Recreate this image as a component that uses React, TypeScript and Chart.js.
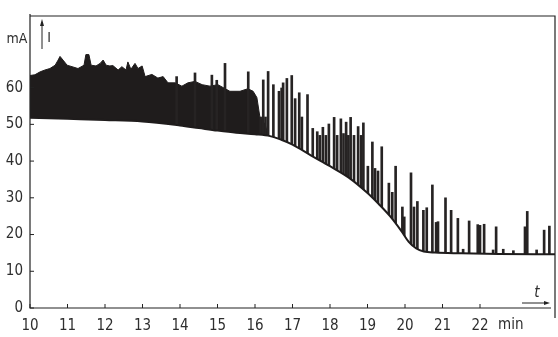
import { useEffect, useRef } from 'react';
import { Chart, registerables } from 'chart.js';

Chart.register(...registerables);

const FONT = "'DejaVu Sans Condensed', 'Liberation Sans Narrow', 'DejaVu Sans', sans-serif";

// Axis ticks
const xTickValues = [10, 11, 12, 13, 14, 15, 16, 17, 18, 19, 20, 21, 22];
const yTickValues = [0, 10, 20, 30, 40, 50, 60];

// Baseline current (lower envelope) – time in min, current in mA
const baseT = [10, 11, 12, 13, 14, 14.5, 15, 15.5, 16, 16.4, 16.7, 17, 17.5, 18, 18.5, 19, 19.3, 19.6, 19.9, 20.1, 20.3, 20.5, 20.8, 21.5, 22.5, 24];
const baseI = [51.8, 51.5, 51.2, 50.8, 49.7, 49, 48.3, 47.7, 47.3, 46.8, 45.8, 44.5, 41.5, 38.6, 35.5, 31.3, 28.3, 25, 21, 18, 16.2, 15.4, 15.1, 14.9, 14.7, 14.6];

// Upper envelope of the dense oscillation band
const envT = [10.0, 10.13, 10.27, 10.4, 10.53, 10.67, 10.75, 10.8, 10.88, 10.99, 11.12, 11.28, 11.44, 11.49, 11.57, 11.63, 11.76, 11.87, 11.95, 12.03, 12.13, 12.21, 12.35, 12.45, 12.56, 12.61, 12.69, 12.8, 12.88, 12.99, 13.07, 13.25, 13.41, 13.55, 13.68, 13.87, 14.05, 14.21, 14.4, 14.59, 14.8, 15.01, 15.33, 15.6, 15.81, 15.95, 16.05, 16.13, 16.27, 16.35];
const envI = [63.3, 63.5, 64.3, 64.8, 65.2, 66.1, 67.5, 68.5, 67.5, 66.1, 65.7, 65.2, 66.1, 69, 69, 66.1, 65.9, 66.6, 67.5, 66.1, 65.9, 66, 64.8, 65.7, 64.8, 67, 65, 66.6, 65.2, 65.9, 63, 63.6, 62.6, 63, 61.3, 61.3, 60.4, 61.3, 61.7, 60.8, 60.4, 60.8, 59, 59, 59.7, 59, 57.3, 52, 50, 47];

// Individual current spikes (peak values)
const spikeT = [13.91, 14.4, 14.85, 14.98, 15.2, 15.82, 16.15, 16.22, 16.28, 16.35, 16.49, 16.64, 16.71, 16.75, 16.85, 16.98, 17.07, 17.18, 17.25, 17.4, 17.54, 17.66, 17.73, 17.81, 17.89, 17.97, 18.11, 18.19, 18.29, 18.36, 18.43, 18.49, 18.55, 18.64, 18.75, 18.83, 18.89, 19.01, 19.13, 19.2, 19.28, 19.38, 19.57, 19.66, 19.75, 19.93, 19.98, 20.16, 20.24, 20.33, 20.49, 20.58, 20.73, 20.83, 20.88, 21.08, 21.23, 21.41, 21.55, 21.71, 21.94, 22.0, 22.11, 22.35, 22.43, 22.62, 22.89, 23.2, 23.26, 23.51, 23.71, 23.85];
const spikeI = [63, 64, 63.4, 62, 66.6, 64.3, 52, 62.1, 52, 64.4, 60.8, 59, 59.9, 61.3, 62.5, 63.3, 57, 58.6, 52, 58.1, 48.9, 48, 47, 49.2, 47, 50.1, 51.9, 47, 51.5, 47.5, 50.6, 47, 51.9, 47, 49.4, 47, 50.4, 38.6, 45.2, 38, 37.3, 43.9, 34, 31.5, 38.6, 27.5, 24.8, 36.8, 27.5, 29, 26.6, 27.3, 33.5, 23.3, 23.5, 30, 26.6, 24.4, 16, 23.7, 22.7, 22.5, 22.8, 15.8, 22.1, 16, 15.6, 22.1, 26.3, 15.8, 21.2, 22.3];

const INK = '#1f1c1c';
const TEXT = '#2e2e2e';

const framePlugin = {
  id: 'frame',
  afterDatasetsDraw(chart: any) {
    const { ctx, chartArea } = chart;
    const { left, right, top, bottom } = chartArea;
    const xs = chart.scales.x;
    const ys = chart.scales.y;
    ctx.save();
    ctx.strokeStyle = '#222';
    ctx.lineWidth = 1.2;
    ctx.beginPath();
    ctx.moveTo(left, top - 2);
    ctx.lineTo(left, bottom);
    ctx.lineTo(right - 4, bottom);
    ctx.moveTo(left, top);
    ctx.lineTo(right, top);
    ctx.lineTo(right, bottom + 10);
    ctx.stroke();
    // inner tick marks
    ctx.lineWidth = 1;
    ctx.beginPath();
    xTickValues.forEach((v) => {
      const px = xs.getPixelForValue(v);
      ctx.moveTo(px, bottom);
      ctx.lineTo(px, bottom - 4);
    });
    yTickValues.forEach((v) => {
      const py = ys.getPixelForValue(v);
      ctx.moveTo(left, py);
      ctx.lineTo(left + 4, py);
    });
    ctx.stroke();
    // I arrow
    const ax = left + 12;
    ctx.beginPath();
    ctx.moveTo(ax, top + 33);
    ctx.lineTo(ax, top + 6);
    ctx.stroke();
    ctx.fillStyle = '#222';
    ctx.beginPath();
    ctx.moveTo(ax, top + 3);
    ctx.lineTo(ax - 2, top + 10);
    ctx.lineTo(ax + 2, top + 10);
    ctx.closePath();
    ctx.fill();
    // t arrow
    ctx.beginPath();
    ctx.moveTo(right - 33, bottom - 5);
    ctx.lineTo(right - 8, bottom - 5);
    ctx.stroke();
    ctx.beginPath();
    ctx.moveTo(right - 5, bottom - 5);
    ctx.lineTo(right - 11, bottom - 7);
    ctx.lineTo(right - 11, bottom - 3);
    ctx.closePath();
    ctx.fill();
    // texts
    ctx.fillStyle = TEXT;
    ctx.textBaseline = 'middle';
    ctx.textAlign = 'center';
    ctx.font = `14px ${FONT}`;
    ctx.fillText('mA', 17, top + 23);
    ctx.fillText('I', ax + 7, top + 22);
    ctx.font = `15px ${FONT}`;
    ctx.fillText('min', xs.getPixelForValue(22.82), bottom + 17);
    ctx.font = `italic 15px ${FONT}`;
    ctx.fillText('t', right - 18, bottom - 15);
    ctx.restore();
  },
};

export default function App() {
  const ref = useRef<HTMLCanvasElement | null>(null);

  useEffect(() => {
    if (!ref.current) return;
    const chart = new Chart(ref.current, {
      type: 'line',
      data: {
        datasets: [
          {
            type: 'line',
            data: baseT.map((t, i) => ({ x: t, y: baseI[i] })),
            borderColor: INK,
            borderWidth: 2,
            pointRadius: 0,
            fill: 'origin',
            backgroundColor: '#ffffff',
            cubicInterpolationMode: 'monotone',
            order: 0,
          } as any,
          {
            type: 'bar',
            data: spikeT.map((t, i) => ({ x: t, y: spikeI[i] })),
            backgroundColor: '#262323',
            barThickness: 2,
            order: 1,
          } as any,
          {
            type: 'line',
            data: envT.map((t, i) => ({ x: t, y: envI[i] })),
            borderColor: INK,
            borderWidth: 1,
            pointRadius: 0,
            fill: 'origin',
            backgroundColor: INK,
            tension: 0,
            order: 2,
          } as any,
        ],
      },
      options: {
        responsive: false,
        animation: false,
        layout: { padding: { top: 10, right: 3, left: 0, bottom: 0 } },
        plugins: { legend: { display: false }, tooltip: { enabled: false } },
        scales: {
          x: {
            type: 'linear',
            min: 10,
            max: 24,
            offset: false,
            grid: { display: false, drawTicks: false },
            border: { display: false },
            afterBuildTicks: (s: any) => {
              s.ticks = xTickValues.map((v) => ({ value: v }));
            },
            afterFit: (s: any) => {
              s.height = 29;
            },
            ticks: {
              autoSkip: false,
              maxRotation: 0,
              padding: 9,
              color: TEXT,
              font: { family: FONT, size: 15 },
              callback: (v: any) => String(v),
            },
          },
          y: {
            min: 0,
            max: 79.5,
            grid: { display: false, drawTicks: false },
            border: { display: false },
            afterBuildTicks: (s: any) => {
              s.ticks = yTickValues.map((v) => ({ value: v }));
            },
            afterFit: (s: any) => {
              s.width = 30;
            },
            ticks: {
              padding: 7,
              color: TEXT,
              font: { family: FONT, size: 15 },
              callback: (v: any) => String(v),
            },
          },
        },
      },
      plugins: [framePlugin],
    } as any);
    return () => chart.destroy();
  }, []);

  return (
    <div style={{ position: 'fixed', left: 0, top: 0, width: 558, height: 337, background: '#fff' }}>
      <canvas ref={ref} width={558} height={337} style={{ display: 'block' }} />
    </div>
  );
}
